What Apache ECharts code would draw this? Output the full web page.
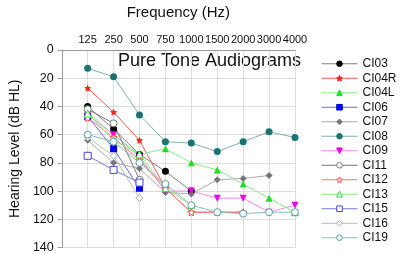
<!DOCTYPE html>
<html>
<head>
<meta charset="utf-8">
<script src="https://cdn.jsdelivr.net/npm/echarts@6/dist/echarts.min.js"></script>
<style>
  html, body { margin: 0; padding: 0; background: #fff; }
  #chart { width: 400px; height: 254px; }
</style>
</head>
<body>
<div id="chart"></div>
<script>
  // 频率（第一个空位留给左边空白）
  var freqs = ['', '125', '250', '500', '750', '1000', '1500', '2000', '3000', '4000'];

  // 各耳的听阈 (dB HL)，按 125 ... 4000 顺序
  var CI03  = [40, 56, 74, 86, 100, null, null, null, null];
  var CI04R = [27, 44, 64, 98, 115, 115, 115, null, null];
  var CI04L = [44, 60, 74, 70, 80, 85, 95, 105, 115];
  var CI06  = [47, 70, 98, null, null, null, null, null, null];
  var CI07  = [64, 80, 84, 101, 102, 92, 91, 89, null];
  var CI08  = [13, 19, 46, 65, 66, 72, 65, 58, 62];
  var CI09  = [46, 60, 76, 100, 100, 105, 105, 115, 110];
  var CI11  = [42, 52, 92, null, null, null, null, null, null];
  var CI12  = [48, 62, 78, 98, 115, 115, 115, null, null];
  var CI13  = [45, 64, 74, 98, 110, null, null, null, 115];
  var CI15  = [75, 85, 94, null, null, null, null, null, null];
  var CI16  = [62, 75, 105, null, null, null, null, null, null];
  var CI19  = [60, 65, 80, 95, 110, 115, 116, 115, 115];

  var yTicks = [0, 20, 40, 60, 80, 100, 120, 140];

  var star = 'path://M0,-10L2.9,-4L9.5,-3.1L4.8,1.5L5.9,8.1L0,5L-5.9,8.1L-4.8,1.5L-9.5,-3.1L-2.9,-4Z';

  function line(name, data, symbol, markColor, lineColor, open, rotate) {
    return {
      name: name,
      type: 'line',
      data: [null].concat(data),
      symbol: symbol,
      symbolSize: 7,
      symbolRotate: rotate || 0,
      connectNulls: false,
      lineStyle: { width: 1, color: lineColor },
      itemStyle: open
        ? { color: '#ffffff', borderColor: markColor, borderWidth: 1 }
        : { color: markColor, borderColor: markColor, borderWidth: 0 },
      emphasis: { disabled: true }
    }
  }

  var myChart = echarts.init(document.getElementById('chart'))

  myChart.setOption({
    animation: false,
    textStyle: { fontFamily: 'Liberation Sans, Arial, sans-serif' },
    grid: { left: 45, right: 105, top: 43, bottom: 6 },
    graphic: [{
      type: 'text',
      left: 118,
      top: 52,
      style: { text: 'Pure Tone Audiograms', fontSize: 18, fill: '#111', fontFamily: 'Liberation Sans, Arial, sans-serif' }
    }],
    legend: {
      orient: 'vertical',
      left: 316,
      top: 52,
      itemWidth: 36,
      itemHeight: 7,
      itemGap: 1,
      itemStyle: { borderWidth: 1 },
      lineStyle: { width: 1 },
      textStyle: { fontSize: 12, color: '#111', lineHeight: 13.5 },
      data: ['CI03', 'CI04R', 'CI04L', 'CI06', 'CI07', 'CI08', 'CI09', 'CI11', 'CI12', 'CI13', 'CI15', 'CI16', 'CI19']
    },
    xAxis: {
      type: 'category',
      position: 'top',
      boundaryGap: false,
      data: freqs,
      name: 'Frequency (Hz)',
      nameLocation: 'middle',
      nameGap: 30,
      nameTextStyle: { fontSize: 15, color: '#111' },
      axisLine: { lineStyle: { color: '#999' } },
      axisTick: { show: false },
      axisLabel: { interval: 0, fontSize: 11, color: '#111', margin: 5 },
      splitLine: { show: true, interval: 0, lineStyle: { color: '#dddddd' } }
    },
    yAxis: {
      type: 'value',
      inverse: true,
      min: yTicks[0],
      max: yTicks[yTicks.length - 1],
      interval: 20,
      name: 'Hearing Level (dB HL)',
      nameLocation: 'middle',
      nameGap: 29,
      nameTextStyle: { fontSize: 14, color: '#111' },
      axisLine: { show: true, lineStyle: { color: '#999' } },
      axisTick: { show: true, length: 4, lineStyle: { color: '#999' } },
      axisLabel: { fontSize: 12.5, color: '#111', margin: 8 },
      splitLine: { show: true, lineStyle: { color: '#dddddd' } }
    },
    series: [
      line('CI03', CI03, 'circle', '#000000', '#808080', false),
      line('CI04R', CI04R, star, '#ff2020', '#ff5555', false),
      line('CI04L', CI04L, 'triangle', '#22dd22', '#88ee88', false),
      line('CI06', CI06, 'rect', '#0000ee', '#6666ee', false),
      line('CI07', CI07, 'diamond', '#777777', '#aaaaaa', false),
      line('CI08', CI08, 'circle', '#1a7474', '#80b0b0', false),
      line('CI09', CI09, 'triangle', '#ee00ee', '#ee88ee', false, 180),
      line('CI11', CI11, 'circle', '#777777', '#777777', true),
      line('CI12', CI12, star, '#ff4444', '#ff7777', true),
      line('CI13', CI13, 'triangle', '#33dd33', '#88ee88', true),
      line('CI15', CI15, 'rect', '#4444dd', '#7777dd', true),
      line('CI16', CI16, 'diamond', '#aaaaaa', '#bbbbbb', true),
      line('CI19', CI19, 'circle', '#55a0a0', '#88bbbb', true)
    ]
  });
</script>
</body>
</html>
